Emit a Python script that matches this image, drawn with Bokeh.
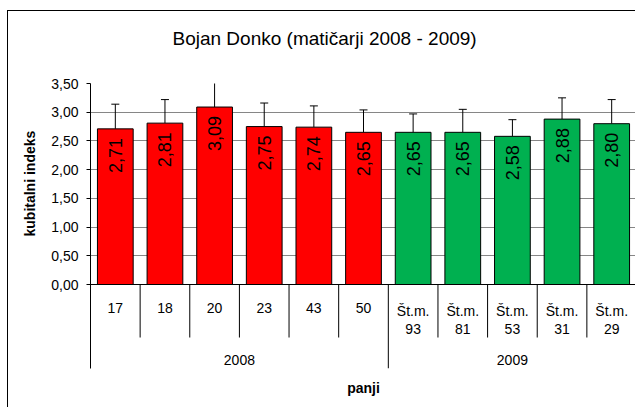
import math
from bokeh.plotting import figure
from bokeh.models import (ColumnDataSource, FactorRange, Range1d, FixedTicker, Span,
                          Whisker, TeeHead, Title)
from bokeh.core.properties import value
from bokeh.embed import file_html
from bokeh.resources import INLINE

# ---- data ----
categories = ["17", "18", "20", "23", "43", "50",
              "Št.m.\n93", "Št.m.\n81", "Št.m.\n53", "Št.m.\n31", "Št.m.\n29"]
years = ["2008"] * 6 + ["2009"] * 5
values = [2.71, 2.81, 3.09, 2.75, 2.74, 2.65, 2.65, 2.65, 2.58, 2.88, 2.80]
errors = [0.43, 0.41, 0.46, 0.41, 0.37, 0.39, 0.32, 0.40, 0.29, 0.37, 0.42]
year_colors = {"2008": "#FF0000", "2009": "#00B050"}
y_ticks = [0.0, 0.5, 1.0, 1.5, 2.0, 2.5, 3.0, 3.5]
title_text = "Bojan Donko (matičarji 2008 - 2009)"
y_label = "kubitalni indeks"
x_label = "panji"

# ---- layout constants (pixels) ----
FONT = "Liberation Sans"
PX_PER_UNIT = 201 / 3.5          # vertical scale of the value axis
FRAME_H = 285                     # frame height in px
Y_END = max(y_ticks)
Y_START = Y_END - FRAME_H / PX_PER_UNIT

n = len(categories)
src = ColumnDataSource(dict(
    x=categories,
    top=values,
    upper=[v + e for v, e in zip(values, errors)],
    color=[year_colors[y] for y in years],
    label=[f"{v:.2f}".replace(".", ",") for v in values],
))

p = figure(width=628, height=397, x_range=FactorRange(*categories),
           y_range=Range1d(Y_START, Y_END), output_backend="svg",
           toolbar_location=None, min_border_left=82, min_border_right=0,
           min_border_top=72, min_border_bottom=40, title=None)
p.margin = (10, 0, 0, 7)
p.styles = {"border-left": "1px solid black", "border-top": "1px solid black"}
p.outline_line_color = None
p.background_fill_color = "white"
p.border_fill_color = "white"

# title (a blank spacer title sits between the frame and the real title)
p.add_layout(Title(text=" ", standoff=12, text_font=FONT, text_font_size="19px"), "above")
p.add_layout(Title(text=title_text, align="left", offset=82, standoff=0,
                   text_font=FONT, text_font_size="19px", text_font_style="normal",
                   text_color="black"), "above")

# axes
p.xaxis.visible = False
yax = p.yaxis[0]
yax.ticker = FixedTicker(ticks=y_ticks)
yax.major_label_overrides = {t: f"{t:.2f}".replace(".", ",") for t in y_ticks}
yax.major_label_text_font = FONT
yax.major_label_text_font_size = "14px"
yax.major_label_text_color = "black"
yax.major_tick_out = 4
yax.major_tick_in = 0
yax.minor_tick_out = 0
yax.minor_tick_in = 0
yax.major_label_standoff = 8
yax.axis_line_color = "black"
yax.major_tick_line_color = "black"

p.add_layout(Title(text=y_label, align="left", offset=132, standoff=21,
                   text_font=FONT, text_font_size="14px", text_font_style="bold",
                   text_color="black"), "left")
p.add_layout(Title(text=x_label, align="center", standoff=18,
                   text_font=FONT, text_font_size="14px", text_font_style="bold",
                   text_color="black"), "below")

p.xgrid.visible = False
p.ygrid.grid_line_color = "#868686"
p.ygrid.grid_line_width = 1
p.ygrid.ticker = FixedTicker(ticks=y_ticks)

# bars
p.vbar(x="x", top="top", width=0.72, source=src, fill_color="color",
       line_color="black", line_width=1)

# zero line
p.add_layout(Span(location=0, dimension="width", line_color="black", line_width=1))

# error bars
p.add_layout(Whisker(source=src, base="x", lower="top", upper="upper",
                     lower_head=None, upper_head=TeeHead(size=8, line_color="black"),
                     line_color="black", line_width=1))

# value labels (rotated)
p.text(x="x", y="top", text="label", source=src, angle=math.pi / 2,
       text_align="right", text_baseline="middle", y_offset=9,
       text_font=value(FONT), text_font_size="18px", text_color="black")

# category labels
cat_src = ColumnDataSource(dict(x=categories, y=[0] * n, t=categories))
p.text(x="x", y="y", text="t", source=cat_src, text_align="center",
       text_baseline="top", y_offset=18, text_line_height=1.15,
       text_font=value(FONT), text_font_size="14px", text_color="black")

# separators between categories
bounds = list(range(1, n))
group_bound = years.index("2009")
sep_len = 53 / PX_PER_UNIT
p.segment(x0=bounds, y0=[0] * len(bounds), x1=bounds,
          y1=[Y_START if b == group_bound else -sep_len for b in bounds],
          line_color="black", line_width=1)

# group labels
groups = ["2008", "2009"]
g_x = []
for g in groups:
    idx = [i for i, y in enumerate(years) if y == g]
    g_x.append((idx[0] + idx[-1] + 1) / 2)
p.text(x=g_x, y=[0, 0], text=groups, text_align="center", text_baseline="middle",
       y_offset=75, text_font=value(FONT), text_font_size="14px", text_color="black")

open("out.html", "w").write(file_html(p, INLINE))
